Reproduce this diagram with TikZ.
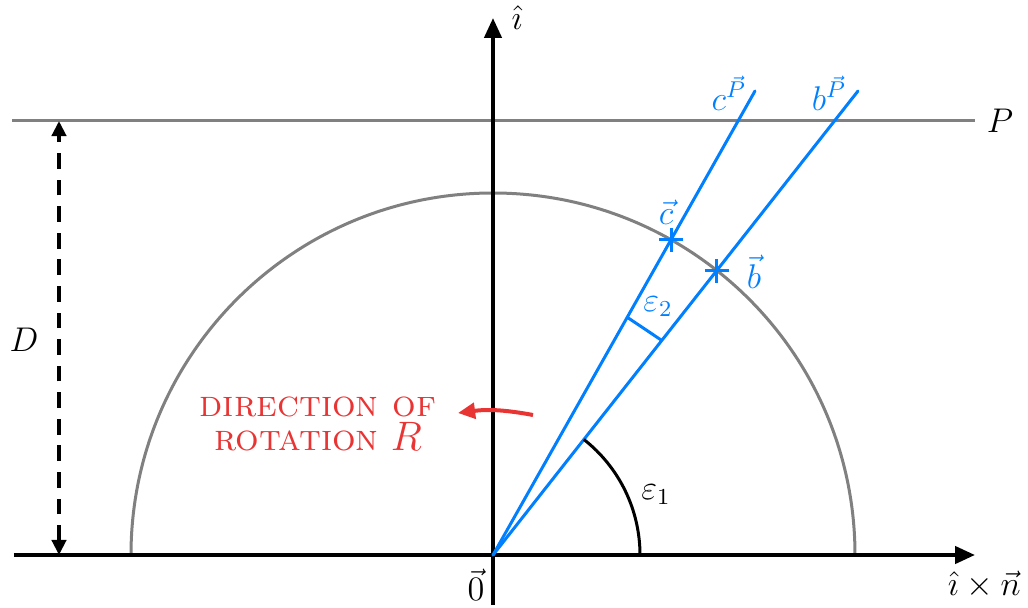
\documentclass[tikz,border=0pt]{standalone}
\usetikzlibrary{arrows.meta}
\definecolor{vblue}{RGB}{0,128,255}
\definecolor{vred}{RGB}{233,52,52}
\definecolor{vgray}{RGB}{128,128,128}
\begin{document}
\begin{tikzpicture}[x=0.35pt,y=0.35pt,
  axis/.style={line width=1.4pt,-{Triangle[length=7pt,width=6pt]}},
  grayline/.style={vgray,line width=1.05pt},
  blueline/.style={vblue,line width=1.05pt},
  lbl/.style={inner sep=1pt,font=\fontsize{11.5}{13}\selectfont},
  bluelbl/.style={lbl,text=vblue}]
\useasboundingbox (-493,-52) rectangle (535,555);
\coordinate (O) at (0,0);
% P line and semicircle
\coordinate (Pl) at (-481,434);
\coordinate (Pr) at (482,434);
\draw[grayline] (Pl) -- (Pr);
\draw[grayline] (-362,0) arc[start angle=180,end angle=0,radius=362];
% axes
\coordinate (xl) at (-479,0);
\coordinate (xr) at (482,0);
\coordinate (yb) at (0,-50);
\coordinate (yt) at (0,537);
\draw[axis] (xl) -- (xr);
\draw[axis] (yb) -- (yt);
% blue lines
\coordinate (cend) at (262,464);
\coordinate (bend) at (365,464);
\draw[blueline,line cap=round] (O) -- (cend);
\draw[blueline,line cap=round] (O) -- (bend);
\coordinate (c) at (60.5:362);
\coordinate (b) at (51.8:362);
\draw[blueline] ([xshift=-4.2pt]c) -- ([xshift=4.2pt]c) ([yshift=-4.2pt]c) -- ([yshift=4.2pt]c);
\draw[blueline] ([xshift=-4.2pt]b) -- ([xshift=4.2pt]b) ([yshift=-4.2pt]b) -- ([yshift=4.2pt]b);
\coordinate (e2a) at (60.5:273);
\coordinate (e2b) at (51.8:273);
\draw[blueline] (e2a) -- (e2b);
% epsilon1 arc
\draw[line width=1.05pt] (147,0) arc[start angle=0,end angle=51.8,radius=147];
% D arrow
\coordinate (Dt) at (-434,434);
\coordinate (Db) at (-434,0);
\draw[line width=1.3pt,dash pattern=on 5.5pt off 3.8pt,{Triangle[length=5.3pt,width=5pt]}-{Triangle[length=5.3pt,width=5pt]}] (Db) -- (Dt);
% red arrow
\coordinate (ra) at (40,140);
\coordinate (rb) at (-35,142);
\draw[vred,line width=1.4pt,-{Triangle[length=6pt,width=5.5pt]}] (ra) to[bend right=9] (rb);
% labels
\node[lbl] (Plbl) at (507,434) {$P$};
\node[lbl] (Dlbl) at (-469,215) {$D$};
\node[lbl] (ilbl) at (24,537) {$\hat{\imath}$};
\node[lbl,anchor=east] (xlbl) at (531,-30) {$\hat{\imath}\times\vec{n}$};
\node[lbl] (olbl) at (-17,-30) {$\vec{0}$};
\node[lbl] (e1lbl) at (163,60) {$\varepsilon_1$};
\node[bluelbl] (clbl) at (173,343) {$\vec{c}$};
\node[bluelbl] (blbl) at (261,283) {$\vec{b}$};
\node[bluelbl] (cPlbl) at (236,462) {$c^{\vec{P}}$};
\node[bluelbl] (bPlbl) at (336,462) {$b^{\vec{P}}$};
\node[bluelbl] (e2lbl) at (165,248) {$\varepsilon_2$};
\node[text=vred,align=center,inner sep=1pt,font=\fontsize{13}{11.8}\selectfont] (rot) at (-175,131) {\textsc{direction of}\\\textsc{rotation} {\fontsize{14.5}{11.8}\selectfont$R$}};
\end{tikzpicture}
\end{document}
